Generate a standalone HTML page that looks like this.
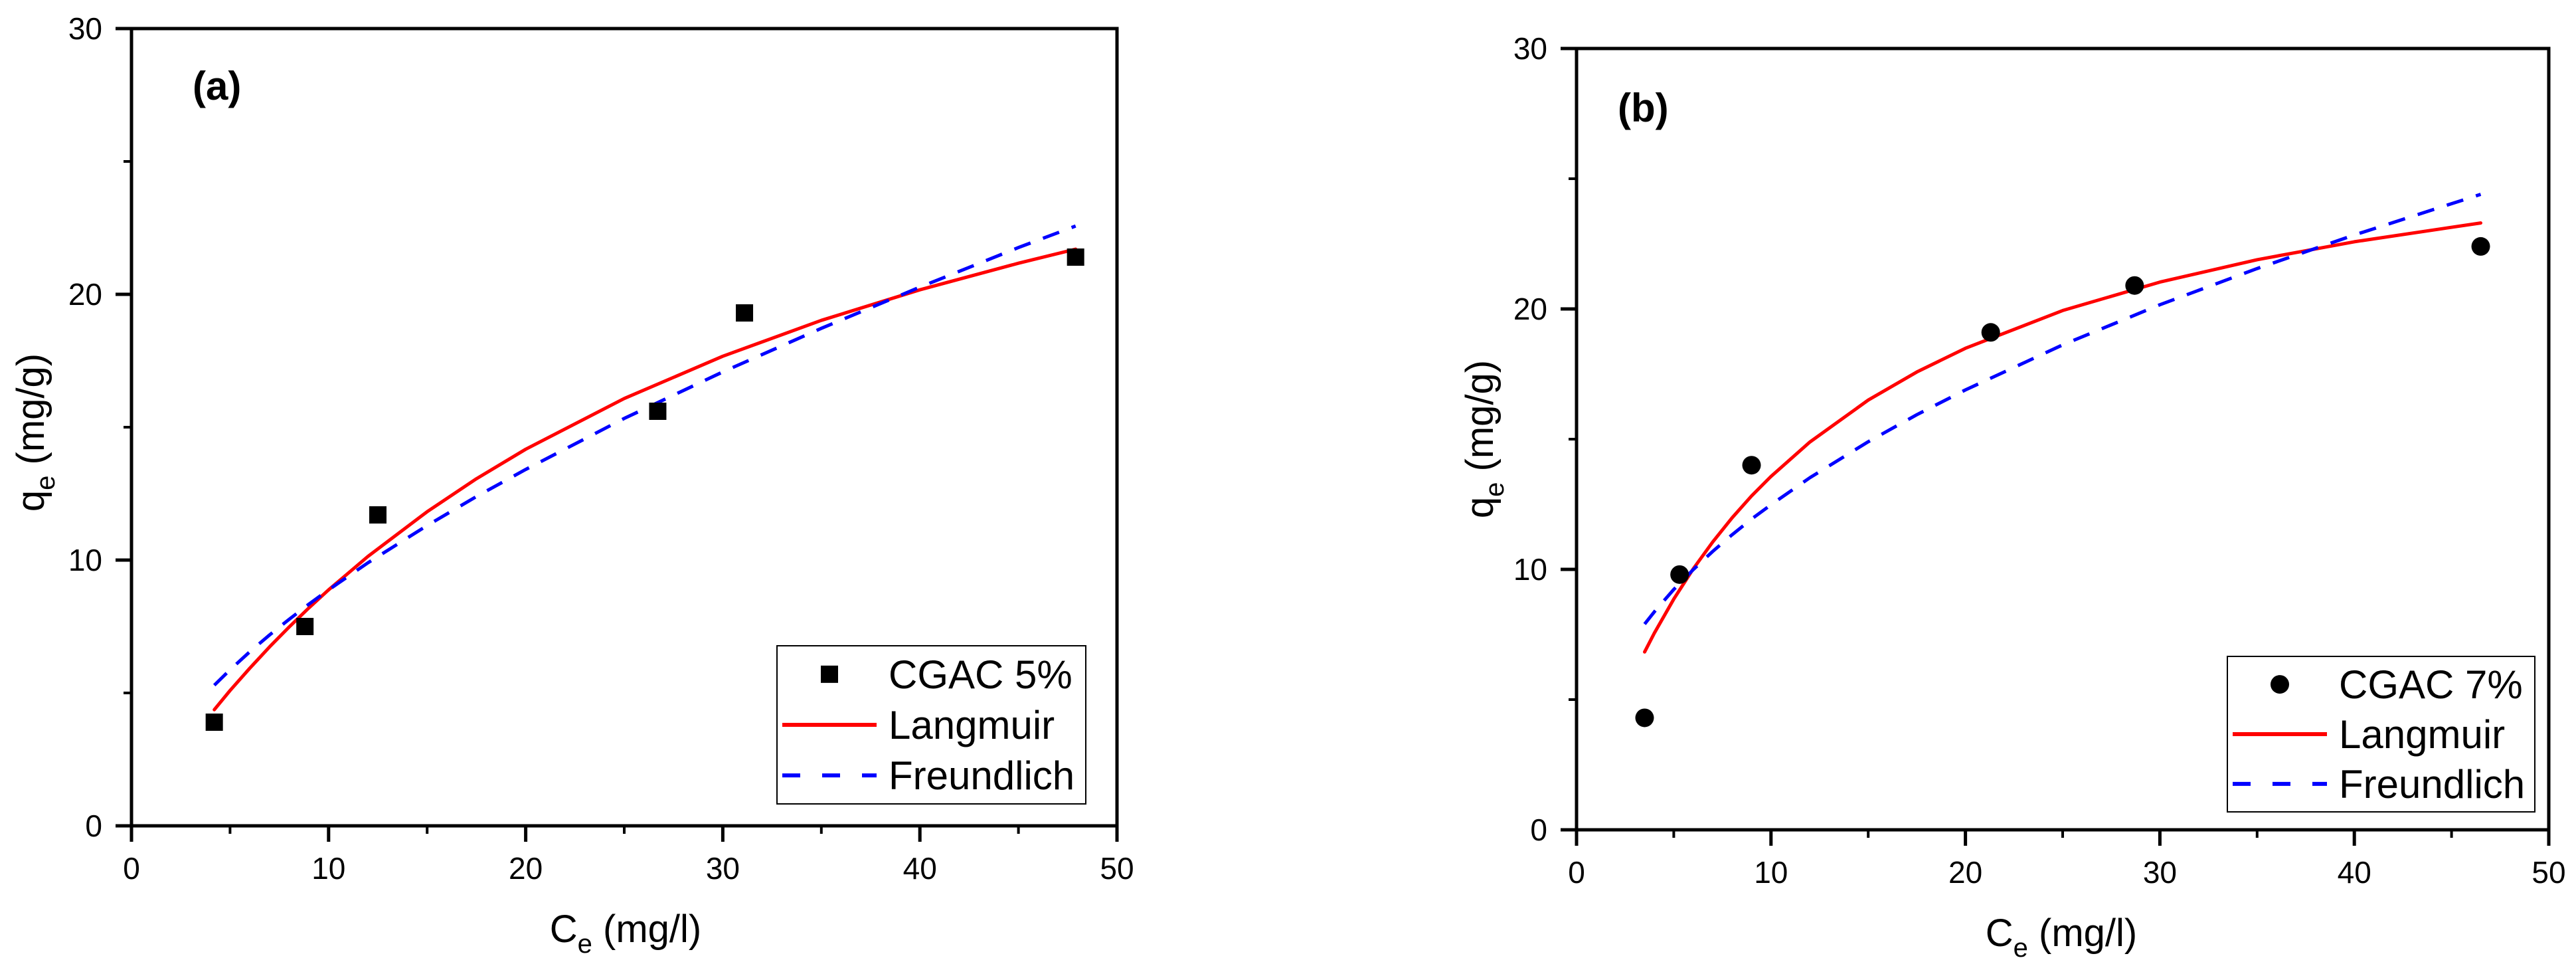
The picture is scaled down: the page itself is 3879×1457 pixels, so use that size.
<!DOCTYPE html>
<html><head><meta charset="utf-8"><style>
html,body{margin:0;padding:0;background:#fff;}
svg{display:block;font-family:"Liberation Sans",Arial,sans-serif;}
</style></head><body>
<svg id="fig" width="3879" height="1457" viewBox="0 0 3879 1457" xmlns="http://www.w3.org/2000/svg"></svg>
<script>
// ---- Panel (a) data ----
const aPointsX = [4.2, 8.8, 12.5, 26.7, 31.1, 47.9];
const aPointsY = [3.9, 7.5, 11.7, 15.6, 19.3, 21.4];
const aCurveX = [4.2, 5, 6, 7, 8, 9, 10, 12, 15, 17.5, 20, 25, 30, 35, 40, 45, 47.9];
const aLangY = [4.37, 5.09, 5.93, 6.73, 7.48, 8.20, 8.88, 10.14, 11.82, 13.06, 14.17, 16.08, 17.67, 19.02, 20.17, 21.17, 21.7];
const aFreuY = [5.29, 5.87, 6.55, 7.18, 7.77, 8.34, 8.88, 9.90, 11.30, 12.39, 13.41, 15.33, 17.08, 18.72, 20.27, 21.76, 22.57];
// ---- Panel (b) data ----
const bPointsX = [3.5, 5.3, 9.0, 21.3, 28.7, 46.5];
const bPointsY = [4.3, 9.8, 14.0, 19.1, 20.9, 22.4];
const bCurveX = [3.5, 4, 5, 6, 7, 8, 9, 10, 12, 15, 17.5, 20, 25, 30, 35, 40, 46.5];
const bLangY = [6.83, 7.55, 8.86, 10.02, 11.05, 11.98, 12.82, 13.57, 14.89, 16.50, 17.58, 18.49, 19.94, 21.03, 21.89, 22.58, 23.30];
const bFreuY = [7.90, 8.37, 9.23, 9.99, 10.69, 11.33, 11.93, 12.48, 13.52, 14.90, 15.94, 16.89, 18.62, 20.16, 21.55, 22.84, 24.40];
// ---- axes ticks ----
const xTicks = [0, 10, 20, 30, 40, 50];
const yTicks = [0, 10, 20, 30];
const xMinor = [5, 15, 25, 35, 45];
const yMinor = [5, 15, 25];

const NS = "http://www.w3.org/2000/svg";
const svg = document.getElementById('fig');
function mk(tag, attrs, parent, text){
  const e = document.createElementNS(NS, tag);
  for (const k in attrs) e.setAttribute(k, attrs[k]);
  if (text !== undefined) e.textContent = text;
  (parent||svg).appendChild(e);
  return e;
}

function panel(cfg){
  const g = mk('g', {});
  
  
  const L=cfg.L, R=cfg.R, T=cfg.T, B=cfg.B;
  const sx = v => L + (v-0)/(50-0)*(R-L);
  const sy = v => B - (v-0)/(30-0)*(B-T);

  const lp = cfg.cx.map((x,i)=>sx(x).toFixed(1)+','+sy(cfg.ly[i]).toFixed(1)).join(' ');
  const lang = mk('polyline', {points: lp, fill:'none', stroke:'#ff0000', 'stroke-width':5, 'stroke-linejoin':'round', 'stroke-linecap':'round'}, g);
  
  
  const fp = cfg.cx.map((x,i)=>sx(x).toFixed(1)+','+sy(cfg.fy[i]).toFixed(1)).join(' ');
  const fr = mk('polyline', {points: fp, fill:'none', stroke:'#0000ff', 'stroke-width':5, 'stroke-dasharray':'26 20', 'stroke-linejoin':'round'}, g);
  
  

  cfg.px.forEach((x,i)=>{
    let m;
    if (cfg.square) m = mk('rect', {x: sx(x)-13, y: sy(cfg.py[i])-13, width:26, height:26, fill:'#000'}, g);
    else m = mk('circle', {cx: sx(x), cy: sy(cfg.py[i]), r:14, fill:'#000'}, g);
    
    
  });

  const fr2 = mk('rect', {x:L, y:T, width:R-L, height:B-T, fill:'none', stroke:'#000', 'stroke-width':5}, g);
  
  

  xTicks.forEach(v=>{
    mk('line', {x1:sx(v), x2:sx(v), y1:B, y2:B+24, stroke:'#000', 'stroke-width':5}, g);
    const t = mk('text', {x:sx(v), y:B+80, 'font-size':46, 'text-anchor':'middle'}, g, String(v));
    
    
  });
  xMinor.forEach(v=>mk('line', {x1:sx(v), x2:sx(v), y1:B, y2:B+12, stroke:'#000', 'stroke-width':4}, g));
  yTicks.forEach(v=>{
    mk('line', {x1:L-24, x2:L, y1:sy(v), y2:sy(v), stroke:'#000', 'stroke-width':5}, g);
    const t = mk('text', {x:L-44, y:sy(v)+16, 'font-size':46, 'text-anchor':'end'}, g, String(v));
    
    
  });
  yMinor.forEach(v=>mk('line', {x1:L-12, x2:L, y1:sy(v), y2:sy(v), stroke:'#000', 'stroke-width':4}, g));

  const pl = mk('text', {x:cfg.labX, y:cfg.labY, 'font-size':60, 'font-weight':'bold'}, g, cfg.label);
  
  

  const xt = mk('text', {x:cfg.xtX, y:cfg.xtY, 'font-size':58, 'text-anchor':'middle'}, g);
  
  
  mk('tspan', {}, xt, 'C');
  mk('tspan', {'font-size':40, dy:16}, xt, 'e');
  mk('tspan', {dy:-16}, xt, ' (mg/l)');
  const yt = mk('text', {x:0, y:0, 'font-size':58, 'text-anchor':'middle', transform:`translate(${cfg.ytX},${cfg.ytY}) rotate(-90)`}, g);
  
  
  mk('tspan', {}, yt, 'q');
  mk('tspan', {'font-size':40, dy:16}, yt, 'e');
  mk('tspan', {dy:-16}, yt, '  (mg/g)');

  const lg = mk('g', {}, g);
  
  
  const lb = cfg.leg;
  mk('rect', {x:lb.x, y:lb.y, width:lb.w, height:lb.h, fill:'#fff', stroke:'#000', 'stroke-width':2}, lg);
  const rows = [lb.y+lb.h*0.18, lb.y+lb.h*0.5, lb.y+lb.h*0.82];
  const s0 = lb.x+8, s1 = lb.x+150, tx = lb.x+168;
  let m;
  if (cfg.square) m = mk('rect', {x:(s0+s1)/2-13, y:rows[0]-13, width:26, height:26, fill:'#000'}, lg);
  else m = mk('circle', {cx:(s0+s1)/2, cy:rows[0], r:14, fill:'#000'}, lg);
  
  
  mk('line', {x1:s0, x2:s1, y1:rows[1], y2:rows[1], stroke:'#ff0000', 'stroke-width':6}, lg);
  mk('line', {x1:s0, x2:s1, y1:rows[2], y2:rows[2], stroke:'#0000ff', 'stroke-width':6, 'stroke-dasharray':'27 33'}, lg);
  const names = [cfg.series, 'Langmuir', 'Freundlich'];
  names.forEach((n,i)=>{
    const t = mk('text', {x:tx, y:rows[i]+21, 'font-size':60}, lg, n);
    
    
  });
}

panel({id:'a', L:198, R:1682, T:43, B:1243, square:true,
  px:aPointsX, py:aPointsY, cx:aCurveX, ly:aLangY, fy:aFreuY,
  label:'(a)', labX:290, labY:150, xtX:942, xtY:1418, ytX:66, ytY:651,
  series:'CGAC 5%', leg:{x:1170, y:972, w:465, h:238}});
panel({id:'b', L:2374, R:3838, T:73, B:1249, square:false,
  px:bPointsX, py:bPointsY, cx:bCurveX, ly:bLangY, fy:bFreuY,
  label:'(b)', labX:2436, labY:183, xtX:3104, xtY:1424, ytX:2248, ytY:661,
  series:'CGAC 7%', leg:{x:3354, y:988, w:463, h:234}});
</script>
</body></html>
